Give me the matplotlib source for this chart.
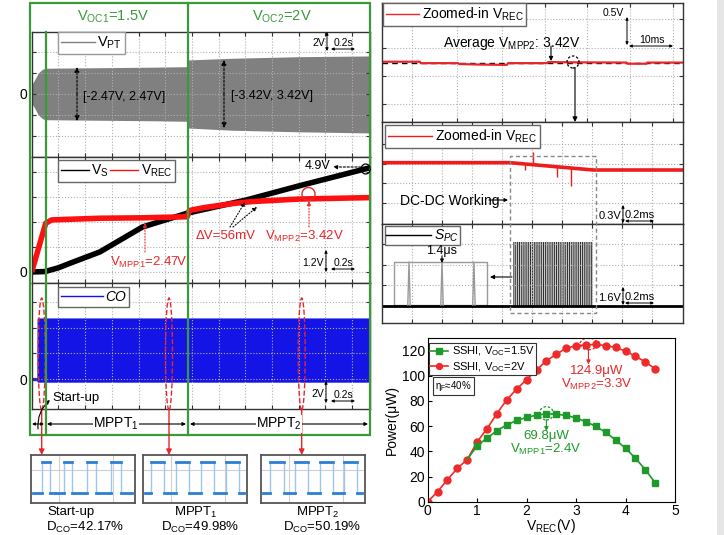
import numpy as np
import matplotlib.pyplot as plt
from matplotlib.patches import Rectangle, Ellipse, FancyArrowPatch
from matplotlib.lines import Line2D

plt.rcParams['font.family'] = ['Liberation Sans', 'DejaVu Sans']
plt.rcParams['mathtext.fontset'] = 'custom'
plt.rcParams['mathtext.rm'] = 'Liberation Sans'
plt.rcParams['mathtext.it'] = 'Liberation Sans:italic'
plt.rcParams['hatch.linewidth'] = 0.8

W, H = 724, 535
GREEN = '#3a9a3a'
RED = '#e8262a'
BLUE = '#1414e6'
GRAY = '#808080'

# ---- left scope: time in s ----
t_pt = [0, 0.02, 0.05, 0.08, 0.105, 0.5, 0.9, 1.168, 1.172, 1.5, 2.0, 2.534]
pt_hi = [0.9, 1.3, 2.0, 2.35, 2.45, 2.5, 2.55, 2.6, 3.24, 3.4, 3.55, 3.62]
pt_lo = [-0.9, -1.3, -2.0, -2.35, -2.45, -2.5, -2.55, -2.6, -3.24, -3.45, -3.6, -3.71]

t_vs = [0, 0.1, 0.2, 0.3, 0.51, 0.83, 1.17, 1.61, 2.0, 2.53]
v_s = [0, 0.02, 0.2, 0.45, 0.96, 2.16, 2.83, 3.46, 4.13, 5.0]

t_rec = [0, 0.105, 0.15, 0.51, 0.83, 1.165, 1.18, 1.3, 1.5, 1.65, 2.0, 2.53]
v_rec = [0, 2.34, 2.5, 2.58, 2.6, 2.65, 2.95, 3.1, 3.28, 3.38, 3.5, 3.57]

t_co = [0, 0.042, 0.043, 2.534]
co_hi = [0.1, 0.1, 4.72, 4.72]
co_lo = [-0.1, -0.1, -0.21, -0.21]

# ---- CO detail insets: high segments (fraction of inset width) ----
co_high = [
    [(0.103, 0.187), (0.313, 0.397), (0.542, 0.623), (0.774, 0.861)],
    [(0.081, 0.200), (0.316, 0.442), (0.558, 0.684), (0.800, 0.919)],
    [(0.090, 0.218), (0.327, 0.449), (0.567, 0.689), (0.801, 0.923)],
]
co_names = ['Start-up', r'MPPT$_1$', r'MPPT$_2$']
co_duty = ['42.17%', '49.98%', '50.19%']

# ---- right top: zoomed V_REC (ms) ----
t_avg = [0, 8.7, 8.9, 17.5, 17.7, 22.5, 28.7, 29, 37.9, 38.2, 42.5, 56.2, 56.5, 60.8, 61, 69.2]
v_avg = [3.435, 3.435, 3.41, 3.41, 3.395, 3.385, 3.38, 3.41, 3.41, 3.43, 3.425, 3.42, 3.4, 3.4, 3.42, 3.42]
v_mpp2 = 3.42

# ---- right middle: V_REC during DC-DC (ms) ----
t_rec2 = [0, 0.853, 1.409, 2.007]
v_rec2 = [3.425, 3.425, 3.315, 3.315]
spike_t = [0.956, 1.009, 1.164, 1.258]
spike_v = [3.315, 3.59, 3.205, 3.075]

# ---- S_PC ----
spc_block = (0.873, 1.407)
spc_top = 4.97
spc_inset = (0.08, 0.70)
spc_inset_top = 3.41
spc_spikes = [0.18, 0.40, 0.613]

# ---- power curves ----
v_red = [0, 0.2, 0.4, 0.6, 0.8, 1.0, 1.2, 1.4, 1.6, 1.8, 2.0, 2.2, 2.4, 2.6, 2.8, 3.0, 3.2, 3.4, 3.6, 3.8, 4.0, 4.2, 4.4, 4.6]
p_red = [0, 8, 17.5, 26.5, 33.5, 47.5, 58, 70, 81, 89.5, 97, 104.5, 112, 117, 122, 123.8, 124.5, 124.9, 124, 122.5, 119.5, 115.5, 111, 105.5]
v_green = [0.8, 1.0, 1.2, 1.4, 1.6, 1.8, 2.0, 2.2, 2.4, 2.6, 2.8, 3.0, 3.2, 3.4, 3.6, 3.8, 4.0, 4.2, 4.4, 4.6]
p_green = [33.5, 44.5, 50.5, 56.5, 61, 64.5, 67, 68.7, 69.8, 69.5, 68.5, 66.5, 63.5, 59.8, 55, 49, 42.5, 34.5, 25.5, 15]

fig = plt.figure(figsize=(W / 100, H / 100), dpi=100)


def fig_ax(l, t, r, b):
    return fig.add_axes([l / W, 1 - b / H, (r - l) / W, (b - t) / H])


def ftxt(x, y, s, **kw):
    kw.setdefault('ha', 'center')
    kw.setdefault('va', 'center')
    fig.text(x / W, 1 - y / H, s, **kw)


def farrow(x1, y1, x2, y2, style='-|>', color='black', ls='-', lw=0.8, ms=7, **kw):
    fig.add_artist(FancyArrowPatch((x1 / W, 1 - y1 / H), (x2 / W, 1 - y2 / H),
                                   transform=fig.transFigure, arrowstyle=style, color=color,
                                   linestyle=ls, lw=lw, mutation_scale=ms, shrinkA=0, shrinkB=0, **kw))


def fline(xs, ys, **kw):
    fig.add_artist(Line2D([x / W for x in xs], [1 - y / H for y in ys], transform=fig.transFigure, **kw))


def fellipse(cx, cy, w, h, **kw):
    fig.add_artist(Ellipse((cx / W, 1 - cy / H), w / W, h / H, transform=fig.transFigure, fill=False, **kw))


def scope(ax, xlim, ylim, xticks, yticks, zero=False):
    ax.set_xlim(xlim)
    ax.set_ylim(ylim)
    ax.set_xticks(xticks)
    ax.set_yticks(yticks)
    ax.set_xticklabels([])
    ax.set_yticklabels(['0' if (zero and v == 0) else '' for v in yticks])
    ax.grid(True, ls=':', color='#b0b0b0', lw=0.8)
    ax.tick_params(direction='in', length=3, top=True, right=True, labelsize=10, pad=3, color='#333333')
    for s in ax.spines.values():
        s.set_linewidth(1.0)
        s.set_color('#333333')


def scale_mark(xv, y1, y2, vtxt, x1, x2, yh, htxt, fs=7.5):
    farrow(xv, y1, xv, y2, style='<|-|>', ms=4, lw=0.7)
    ftxt(xv - 2, (y1 + y2) / 2 + 2, vtxt, ha='right', fontsize=fs)
    farrow(x1, yh, x2, yh, style='<|-|>', ms=4, lw=0.7)
    ftxt((x1 + x2) / 2, yh - 6, htxt, fontsize=fs)


def leg(ax, handles, labels, anchor, fs=10, hl=2.0, ncol=1, italic=False, ec='#666666', bp=0.2):
    lg = ax.legend(handles, labels, loc='upper left', bbox_to_anchor=anchor, frameon=True, fancybox=False,
                   edgecolor=ec, framealpha=1, fontsize=fs, handlelength=hl, ncol=ncol,
                   borderpad=bp, borderaxespad=0, handletextpad=0.2, columnspacing=0.1)
    lg.get_frame().set_linewidth(1.0)
    if italic:
        for t in lg.get_texts():
            t.set_fontstyle('italic')
    return lg


def hline(color):
    return Line2D([], [], color=color, lw=1)


# =================== left scope ===================
XL = (0, 2.534)
xg = [0.2 * i for i in range(1, 13)]

ax1 = fig_ax(31.7, 32, 370, 157)
scope(ax1, XL, (-6.0, 5.9), xg, [-4, -2, 0, 2, 4], zero=True)
ax1.fill_between(t_pt, pt_lo, pt_hi, color=GRAY, lw=0)
leg(ax1, [hline(GRAY)], [r'V$_{\rm PT}$'], (0.078, 1.0), fs=10.5, hl=2.3, ec='#999999')

ax2 = fig_ax(31.7, 157, 370, 283)
scope(ax2, XL, (-0.53, 5.52), xg, [0, 1.2, 2.4, 3.6, 4.8], zero=True)
ax2.plot(t_vs, v_s, color='black', lw=4, solid_capstyle='butt')
ax2.plot(t_rec, v_rec, color='#ff1010', lw=4, solid_capstyle='butt')
leg(ax2, [hline('black'), hline('#ff1010')], [r'V$_{\rm S}$', r'V$_{\rm REC}$'], (0.078, 0.976),
    fs=10, hl=2.0, ncol=2)

ax3 = fig_ax(31.7, 283, 370, 409)
scope(ax3, XL, (-2.33, 7.47), xg, [0, 2, 4, 6], zero=True)
ax3.fill_between(t_co, co_lo, co_hi, color=BLUE, lw=0.5)
leg(ax3, [hline(BLUE)], ['CO'], (0.078, 0.968), fs=10, hl=3.0, italic=True)

# green frame and header
fig.add_artist(Rectangle((30 / W, 1 - 435 / H), 340 / W, 432 / H, transform=fig.transFigure,
                         fill=False, ec=GREEN, lw=1.6))
fline([45.7, 45.7], [32, 435], color=GREEN, lw=1.6)
fline([188, 188], [3, 435], color=GREEN, lw=1.6)
ftxt(113, 17, r'V$_{\rm OC1}$=1.5V', color=GREEN, fontsize=10.5)
ftxt(282, 17, r'V$_{\rm OC2}$=2V', color=GREEN, fontsize=10.5)

# top panel annotations
farrow(77, 94, 77, 67, ls=(0, (2, 1.5)), ms=7)
farrow(77, 94, 77, 121, ls=(0, (2, 1.5)), ms=7)
ftxt(83, 97, '[-2.47V, 2.47V]', ha='left', fontsize=9)
farrow(224, 94, 224, 60, ls=(0, (2, 1.5)), ms=7)
farrow(224, 94, 224, 128, ls=(0, (2, 1.5)), ms=7)
ftxt(231, 96, '[-3.42V, 3.42V]', ha='left', fontsize=9)
scale_mark(327, 32, 51, '2V', 331, 355, 49, '0.2s')

# middle panel annotations
ftxt(305, 166, '4.9V', ha='left', fontsize=9)
farrow(361, 167, 333, 167, ls=(0, (2, 1.5)), ms=6)
fellipse(365.7, 169, 9, 10, ec='black', lw=0.9)
farrow(230, 227, 245, 202, ls=':', ms=6)
farrow(233, 227, 257, 207, ls=':', ms=6)
ftxt(196, 236, 'ΔV=56mV', ha='left', color=RED, fontsize=9.5)
ftxt(265, 236, r'V$_{\rm MPP2}$=3.42V', ha='left', color=RED, fontsize=9.5)
farrow(309, 227, 309, 201, color=RED, ls=':', ms=6)
fellipse(308.5, 194, 13, 13, ec=RED, lw=1)
ftxt(110, 262, r'V$_{\rm MPP1}$=2.47V', ha='left', color=RED, fontsize=9.5)
farrow(145, 252, 145, 223, color=RED, ls=':', ms=6)
scale_mark(326, 250, 272, '1.2V', 331, 355, 269, '0.2s')

# CO panel annotations
for cx in [41.7, 169, 301.7]:
    fellipse(cx, 354, 7, 112, ec=RED, ls='--', lw=1)
    farrow(cx, 410, cx, 455, color=RED, lw=1, ms=8)
ftxt(52, 398, 'Start-up', ha='left', fontsize=9.5)
farrow(38, 429, 50, 400, connectionstyle='arc3,rad=-0.25', ms=6)
scale_mark(326, 381, 403, '2V', 331, 355, 401, '0.2s')

# MPPT strip
farrow(32, 424, 44, 424, style='<|-|>', ms=4, lw=0.8)
farrow(47, 424, 186, 424, style='<|-|>', ms=5, lw=0.8)
farrow(190, 424, 368, 424, style='<|-|>', ms=5, lw=0.8)
ftxt(116, 424, r'MPPT$_1$', fontsize=10, bbox=dict(fc='white', ec='none', pad=0.5))
ftxt(279, 424, r'MPPT$_2$', fontsize=10, bbox=dict(fc='white', ec='none', pad=0.5))

# CO detail insets
inset_x = [(31, 135), (143, 247), (261, 365)]
cap1_x = [71, 196, 318]
cap2_x = [85, 200, 322]
for k, (l, r) in enumerate(inset_x):
    ai = fig_ax(l, 455, r, 503)
    ai.set_xlim(0, 1)
    ai.set_ylim(0, 1)
    ai.set_xticks([])
    ai.set_yticks([])
    for s in ai.spines.values():
        s.set_color('#555555')
        s.set_linewidth(1.3)
    ai.axhline(0.69, color='#d0d0d0', lw=0.8)
    ai.axvline(0.27, color='#d0d0d0', lw=0.8)
    ai.axvline(0.79, color='#d0d0d0', lw=0.8)
    lo, hi = 0.21, 0.857
    xs, ys = [0.015], [lo]
    for a, b in co_high[k]:
        xs += [a, a, b, b]
        ys += [lo, hi, hi, lo]
    xs.append(0.97)
    ys.append(lo)
    ai.plot(xs, ys, color='#9cc5f0', lw=1)
    for i in range(len(xs) - 1):
        if ys[i] == ys[i + 1]:
            ai.plot(xs[i:i + 2], ys[i:i + 2], color='#2c7fd6', lw=2)
    ftxt(cap1_x[k], 512, co_names[k], fontsize=9.5)
    ftxt(cap2_x[k], 527.5, r'D$_{\rm CO}$=' + co_duty[k], fontsize=9.5)

# =================== right top ===================
axr1 = fig_ax(382, 3, 683, 122)
scope(axr1, (0, 69.2), (2.374, 4.469), [6.9, 17.2, 27.5, 37.5, 47.1, 57.0, 67.0], [2.686, 3.179, 3.677, 4.182])
axr1.axhline(v_mpp2, color='black', ls=(0, (4, 3)), lw=1)
axr1.plot(t_avg, v_avg, color=RED, lw=1.6)
leg(axr1, [hline(RED)], [r'Zoomed-in V$_{\rm REC}$'], (0.003, 1.0), fs=10, hl=2.4)
ftxt(443, 44, r'Average V$_{\rm MPP2}$: 3.42V', ha='left', fontsize=10)
farrow(551, 46, 551, 61, ms=6)
fellipse(573, 62, 12, 12, ec='black', ls=(0, (2, 1.5)), lw=0.9)
farrow(575, 68, 575, 122, ms=7)
farrow(627, 17, 627, 45, style='<|-|>', ms=4, lw=0.7)
ftxt(624, 13, '0.5V', ha='right', fontsize=7.5)
farrow(629, 46, 673, 46, style='<|-|>', ms=4, lw=0.7)
ftxt(652, 40, '10ms', fontsize=7.5)

# =================== right middle ===================
xg2 = [0.2 * i for i in range(1, 10)]
axr2 = fig_ax(382, 122, 683, 224)
scope(axr2, (0, 2.007), (2.505, 4.035), xg2, [2.815, 3.115, 3.41, 3.71])
axr2.plot(t_rec2, v_rec2, color='#ee1c1c', lw=2.6)
axr2.vlines(spike_t, np.interp(spike_t, t_rec2, v_rec2), spike_v, color='#ee1c1c', lw=1)
leg(axr2, [hline('#ee1c1c')], [r'Zoomed-in V$_{\rm REC}$'], (0.01, 0.97), fs=10, hl=3.2)
ftxt(400, 201, 'DC-DC Working', ha='left', fontsize=10)
farrow(489, 200, 508, 200, ms=5)
scale_mark(623, 205, 223, '0.3V', 625, 654, 221, '0.2ms', fs=8)

axr3 = fig_ax(382, 224, 683, 323)
scope(axr3, (0, 2.007), (-1.35, 6.38), xg2, [0, 1.6, 3.2, 4.8])
axr3.axhline(0, color='black', lw=2)
axr3.fill_between(list(spc_block), 0, spc_top, facecolor='white', edgecolor='#303030', hatch='|' * 9, lw=0)
axr3.fill_between(list(spc_inset), 0.05, spc_inset_top, facecolor='white', edgecolor='#999999', lw=1)
for st in spc_spikes:
    axr3.plot([st - 0.008, st, st + 0.008], [0.05, spc_inset_top, 0.05], color='#999999', lw=1)
leg(axr3, [hline('black')], [r'$S_{PC}$'], (0.01, 0.98), fs=10, hl=3.2, bp=0.1)
ftxt(442, 251, '1.4μs', fontsize=9)
farrow(442, 256, 442, 263, ms=5)
farrow(512, 277, 490, 277, ms=6)
scale_mark(623, 287, 305, '1.6V', 625, 654, 303, '0.2ms', fs=8)
fig.add_artist(Rectangle((510 / W, 1 - 313 / H), 86 / W, 157 / H, transform=fig.transFigure,
                         fill=False, ec='#888888', ls=(0, (3, 2)), lw=1))

# =================== power plot ===================
axp = fig_ax(427.7, 338, 675, 501.7)
axp.plot(v_red, p_red, color='#ee2a2a', marker='o', ms=5, lw=1.2, label=r'SSHI, V$_{\rm OC}$=2V')
axp.plot(v_green, p_green, color='#1f9a2a', marker='s', ms=4.5, lw=1.2, markevery=list(range(1, len(v_green))),
         label=r'SSHI, V$_{\rm OC}$=1.5V')
axp.set_xlim(0, 5)
axp.set_ylim(0, 130)
axp.set_xticks([0, 1, 2, 3, 4, 5])
axp.set_yticks([0, 20, 40, 60, 80, 100, 120])
axp.tick_params(direction='in', length=3, labelsize=10, pad=2)
axp.set_xlabel(r'V$_{\rm REC}$(V)', fontsize=10, labelpad=-1)
axp.set_ylabel('Power(μW)', fontsize=10, labelpad=2)
h, l = axp.get_legend_handles_labels()
lp = axp.legend(h[::-1], l[::-1], loc='upper left', bbox_to_anchor=(0.0, 0.976), frameon=True, fancybox=False,
                edgecolor='#333333', framealpha=1, fontsize=8, handlelength=1.6, borderpad=0.15,
                borderaxespad=0.1, handletextpad=0.3, labelspacing=0.15, markerscale=0.85)
lp.get_frame().set_linewidth(0.8)
axp.text(0.15, 92, 'η$_{\\rm F}$≈40%', fontsize=7, ha='left', va='center',
         bbox=dict(fc='white', ec='#333333', lw=0.8, pad=1.5))
axp.add_patch(Ellipse((3.25, 125.3), 0.34, 9.3, fill=False, ec=RED, ls=(0, (2, 1.5)), lw=0.9))
axp.annotate('', xy=(3.25, 109), xytext=(3.25, 120.5),
             arrowprops=dict(arrowstyle='-|>', color=RED, lw=0.8, mutation_scale=6, shrinkA=0, shrinkB=0))
axp.text(3.42, 104, '124.9μW', color=RED, fontsize=9.5, ha='center', va='center')
axp.text(3.42, 93.5, r'V$_{\rm MPP2}$=3.3V', color=RED, fontsize=9.5, ha='center', va='center')
axp.add_patch(Ellipse((2.4, 70.2), 0.28, 10.6, fill=False, ec='#1f9a2a', ls=(0, (2, 1.5)), lw=0.9))
axp.annotate('', xy=(2.4, 56), xytext=(2.4, 65),
             arrowprops=dict(arrowstyle='-|>', color='#1f9a2a', lw=0.8, mutation_scale=6, shrinkA=0, shrinkB=0))
axp.text(2.39, 52, '69.8μW', color='#1f9a2a', fontsize=9.5, ha='center', va='center')
axp.text(2.39, 41.5, r'V$_{\rm MPP1}$=2.4V', color='#1f9a2a', fontsize=9.5, ha='center', va='center')

# page edge strip
fig.add_artist(Rectangle((717 / W, 0), 7 / W, 1, transform=fig.transFigure, color='#e6e6e6', lw=0))

fig.savefig('out.png', dpi=100)
